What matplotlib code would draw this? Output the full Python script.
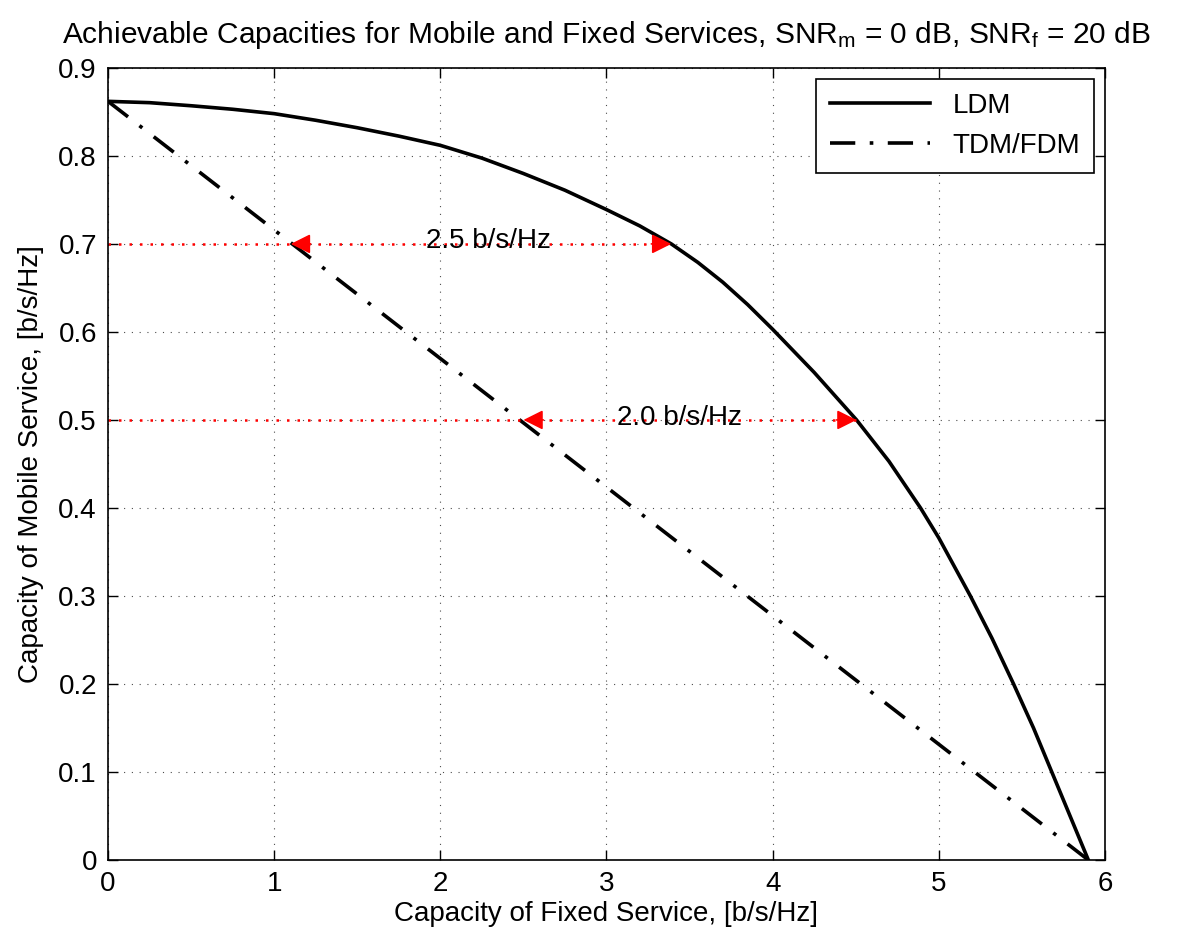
import numpy as np
import matplotlib
matplotlib.use("Agg")
import matplotlib.pyplot as plt

plt.rcParams['font.family'] = ['Liberation Sans', 'DejaVu Sans']
plt.rcParams['mathtext.fontset'] = 'custom'
plt.rcParams['mathtext.rm'] = 'Liberation Sans'
plt.rcParams['mathtext.it'] = 'Liberation Sans:italic'

# LDM boundary: fixed capacity vs mobile capacity [b/s/Hz]
ldm_fixed = [0.0, 0.25, 0.5, 0.75, 1.0, 1.25, 1.5, 1.75, 2.0, 2.25, 2.5, 2.75,
             3.0, 3.2, 3.39, 3.55, 3.7, 3.85, 4.0, 4.25, 4.505, 4.7, 4.89, 5.0,
             5.19, 5.32, 5.45, 5.57, 5.68, 5.79, 5.9]
ldm_mobile = [0.862, 0.8605, 0.857, 0.853, 0.848, 0.8405, 0.832, 0.8225, 0.812,
              0.7975, 0.780, 0.761, 0.739, 0.7205, 0.700, 0.679, 0.6565, 0.631,
              0.603, 0.554, 0.500, 0.453, 0.400, 0.366, 0.300, 0.252, 0.200,
              0.150, 0.100, 0.050, 0.0]

# TDM/FDM time-sharing line
tdm_fixed = [0.0, 5.9]
tdm_mobile = [0.862, 0.0]

# gain markers at fixed mobile rates
gap_levels = [0.7, 0.5]
gap_left = [1.1, 2.5]
gap_right = [3.39, 4.505]
gap_labels = ['2.5 b/s/Hz', '2.0 b/s/Hz']
gap_label_x = [2.29, 3.44]

fig = plt.figure(figsize=(11.78, 9.43), dpi=100)
ax = fig.add_axes([0.0917, 0.088, 0.8463, 0.840])

ax.plot(ldm_fixed, ldm_mobile, color='black', linewidth=2.6, linestyle='-', label='LDM')
ax.plot(tdm_fixed, tdm_mobile, color='black', linewidth=2.6,
        linestyle=(0, (7, 4, 1, 4)), label='TDM/FDM')

for y, xl, xr, lab, lx in zip(gap_levels, gap_left, gap_right, gap_labels, gap_label_x):
    ax.plot([0, xr], [y, y], color='red', linewidth=1.8, linestyle=(0, (1, 3.2)))
    ax.annotate('', xy=(xl, y), xytext=(xl + 0.12, y),
                arrowprops=dict(arrowstyle='-|>', color='red', lw=1.2,
                                mutation_scale=30, shrinkA=0, shrinkB=0))
    ax.annotate('', xy=(xr, y), xytext=(xr - 0.12, y),
                arrowprops=dict(arrowstyle='-|>', color='red', lw=1.2,
                                mutation_scale=30, shrinkA=0, shrinkB=0))
    ax.text(lx, y - 0.012, lab, fontsize=20, ha='center', va='bottom')

ax.set_xlim(0, 6)
ax.set_ylim(0, 0.9)
ax.set_xticks(np.arange(0, 7, 1))
ax.set_yticks(np.arange(0, 0.91, 0.1))
ax.set_yticklabels(['0', '0.1', '0.2', '0.3', '0.4', '0.5', '0.6', '0.7', '0.8', '0.9'])
ax.tick_params(direction='in', length=7, width=1, labelsize=20, top=True, right=True, pad=8)
ax.grid(True, color='black', linestyle=(0, (1, 6)), linewidth=0.8, alpha=0.7)
for s in ax.spines.values():
    s.set_linewidth(1.2)

ax.set_xlabel('Capacity of Fixed Service, [b/s/Hz]', fontsize=20, labelpad=3)
ax.set_ylabel('Capacity of Mobile Service, [b/s/Hz]', fontsize=20, labelpad=10)
ax.set_title(r'Achievable Capacities for Mobile and Fixed Services, SNR$_\mathrm{m}$ = 0 dB, '
             r'SNR$_\mathrm{f}$ = 20 dB', fontsize=21.5, pad=18)

leg = ax.legend(loc='upper right', fontsize=20, handlelength=3.6, fancybox=False,
                edgecolor='black', framealpha=1, borderaxespad=0.4, labelspacing=0.5,
                borderpad=0.5)
leg.get_frame().set_linewidth(1.2)

fig.savefig('out.png', dpi=100)
